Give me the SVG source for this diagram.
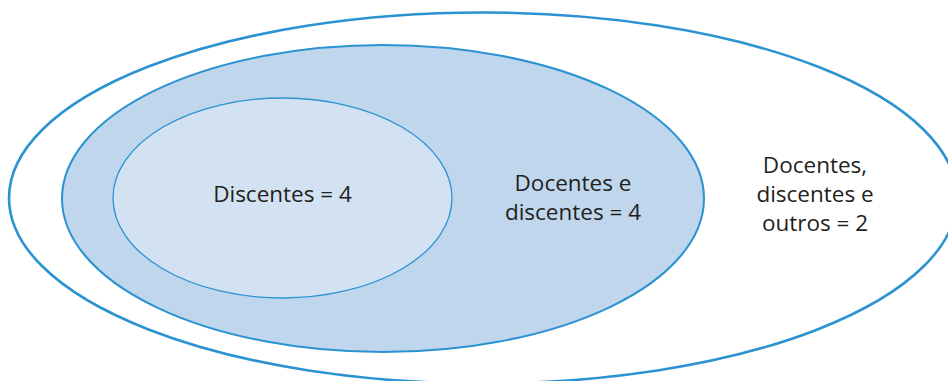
<svg xmlns="http://www.w3.org/2000/svg" width="948" height="381" viewBox="0 0 948 381">
<style>
.e{stroke:#2b93d1}
.t{font-family:"Open Sans","Noto Sans","Liberation Sans",sans-serif;font-size:22.5px;fill:#231f20;text-anchor:middle}
</style>
<rect width="948" height="381" fill="#ffffff"/>
<g id="outer">
<ellipse class="e" cx="483" cy="198" rx="474" ry="185.5" fill="#ffffff" stroke-width="2.6"/>
<text class="t" x="815" y="173">Docentes,</text>
<text class="t" x="815" y="202">discentes e</text>
<text class="t" x="815" y="231">outros = 2</text>
</g>
<g id="middle">
<ellipse class="e" cx="383" cy="198.5" rx="321" ry="153.5" fill="#bfd6ec" stroke-width="2"/>
<text class="t" x="573" y="191">Docentes e</text>
<text class="t" x="573" y="220">discentes = 4</text>
</g>
<g id="inner">
<ellipse class="e" cx="282.5" cy="198" rx="169.5" ry="100" fill="#d2e2f3" stroke-width="1.3"/>
<text class="t" x="282.5" y="202">Discentes = 4</text>
</g>
<g id="connectors"/>
</svg>
